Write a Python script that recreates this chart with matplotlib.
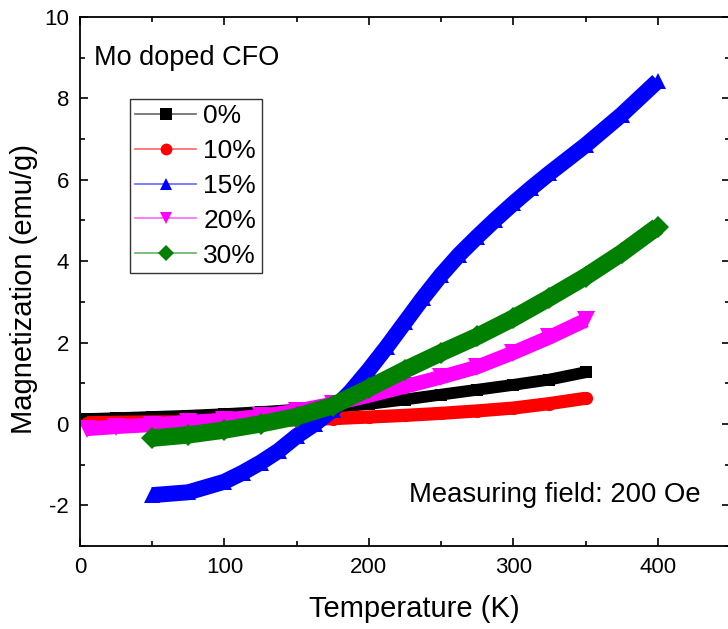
import matplotlib
matplotlib.use("Agg")
import matplotlib.pyplot as plt
from matplotlib.lines import Line2D
from matplotlib.ticker import MultipleLocator

plt.rcParams["font.family"] = ["Liberation Sans", "DejaVu Sans"]
plt.rcParams["axes.unicode_minus"] = False

# temperature (K) and magnetization (emu/g)
t_0  = [5, 25, 50, 75, 100, 125, 150, 175, 200, 225, 250, 275, 300, 325, 350]
m_0  = [0.12, 0.14, 0.17, 0.20, 0.24, 0.29, 0.35, 0.41, 0.49, 0.60, 0.72, 0.84, 0.96, 1.09, 1.27]

t_10 = [5, 25, 50, 75, 100, 125, 150, 175, 200, 225, 250, 275, 300, 325, 350]
m_10 = [0.03, 0.04, 0.05, 0.05, 0.06, 0.08, 0.10, 0.13, 0.17, 0.21, 0.26, 0.32, 0.39, 0.50, 0.63]

t_15 = [50, 75, 100, 112.5, 125, 137.5, 150, 162.5, 175, 187.5, 200, 212.5, 225,
        237.5, 250, 262.5, 275, 287.5, 300, 312.5, 325, 350, 375, 400]
m_15 = [-1.75, -1.68, -1.42, -1.20, -0.95, -0.66, -0.30, 0.00, 0.35, 0.80, 1.33, 1.90,
        2.50, 3.10, 3.66, 4.16, 4.60, 5.02, 5.42, 5.80, 6.16, 6.85, 7.60, 8.43]

t_20 = [5, 25, 50, 75, 100, 125, 150, 175, 200, 225, 250, 275, 300, 325, 350]
m_20 = [-0.12, -0.07, -0.02, 0.04, 0.10, 0.19, 0.32, 0.49, 0.70, 0.92, 1.15, 1.40, 1.75, 2.13, 2.55]

t_30 = [50, 75, 100, 125, 150, 175, 200, 225, 250, 275, 300, 325, 350, 375, 400]
m_30 = [-0.35, -0.27, -0.15, 0.0, 0.18, 0.45, 0.88, 1.33, 1.75, 2.15, 2.60, 3.10, 3.62, 4.20, 4.85]

labels  = ["0%", "10%", "15%", "20%", "30%"]
colors  = ["#000000", "#ff0000", "#0000ff", "#ff00ff", "#008000"]
markers = ["s", "o", "^", "v", "D"]
series  = [(t_0, m_0), (t_10, m_10), (t_15, m_15), (t_20, m_20), (t_30, m_30)]
widths  = [8.5, 9.5, 11.5, 10.5, 12.5]
msizes  = [8.5, 9.5, 12.0, 12.5, 11.0]

fig = plt.figure(figsize=(7.28, 6.29), dpi=100)
ax = fig.add_axes([80 / 728, 83 / 629, 650 / 728, 529 / 629])

handles = []
for (t, m), c, mk, lw, ms, lab in zip(series, colors, markers, widths, msizes, labels):
    ax.plot(t, m, color=c, lw=lw, solid_capstyle="butt", solid_joinstyle="round",
            marker=mk, markersize=ms, markeredgewidth=0, zorder=2)
    line = Line2D([], [], color=c, lw=1.2, alpha=0.6)
    mark = Line2D([], [], color=c, lw=0, marker=mk, markersize=8.5, markeredgewidth=0)
    handles.append((line, mark))

ax.set_xlim(0, 450)
ax.set_ylim(-3, 10)
ax.xaxis.set_major_locator(MultipleLocator(100))
ax.xaxis.set_minor_locator(MultipleLocator(50))
ax.yaxis.set_major_locator(MultipleLocator(2))
ax.yaxis.set_minor_locator(MultipleLocator(1))
ax.tick_params(which="both", direction="in", top=True, right=True, width=1.2)
ax.tick_params(which="major", length=6, labelsize=16, pad=8)
ax.tick_params(which="minor", length=3.5)
for s in ax.spines.values():
    s.set_linewidth(1.3)

ax.set_xlabel("Temperature (K)", fontsize=21, labelpad=12)
ax.set_ylabel("Magnetization (emu/g)", fontsize=21, labelpad=4)
ax.xaxis.label.set_x(0.514)
ax.yaxis.label.set_y(0.486)

ax.text(10, 9.0, "Mo doped CFO", fontsize=19.5, ha="left", va="center")
ax.text(228, -1.75, "Measuring field: 200 Oe", fontsize=19.8, ha="left", va="center")

leg = ax.legend(handles, labels, loc="upper left", bbox_to_anchor=(0.077, 0.845),
                borderaxespad=0, fontsize=19, frameon=True, fancybox=False,
                handlelength=2.3, handletextpad=0.28, labelspacing=0.41,
                borderpad=0.2)
leg.get_frame().set_edgecolor("black")
leg.get_frame().set_linewidth(1.0)

fig.savefig("out.png", dpi=100)
